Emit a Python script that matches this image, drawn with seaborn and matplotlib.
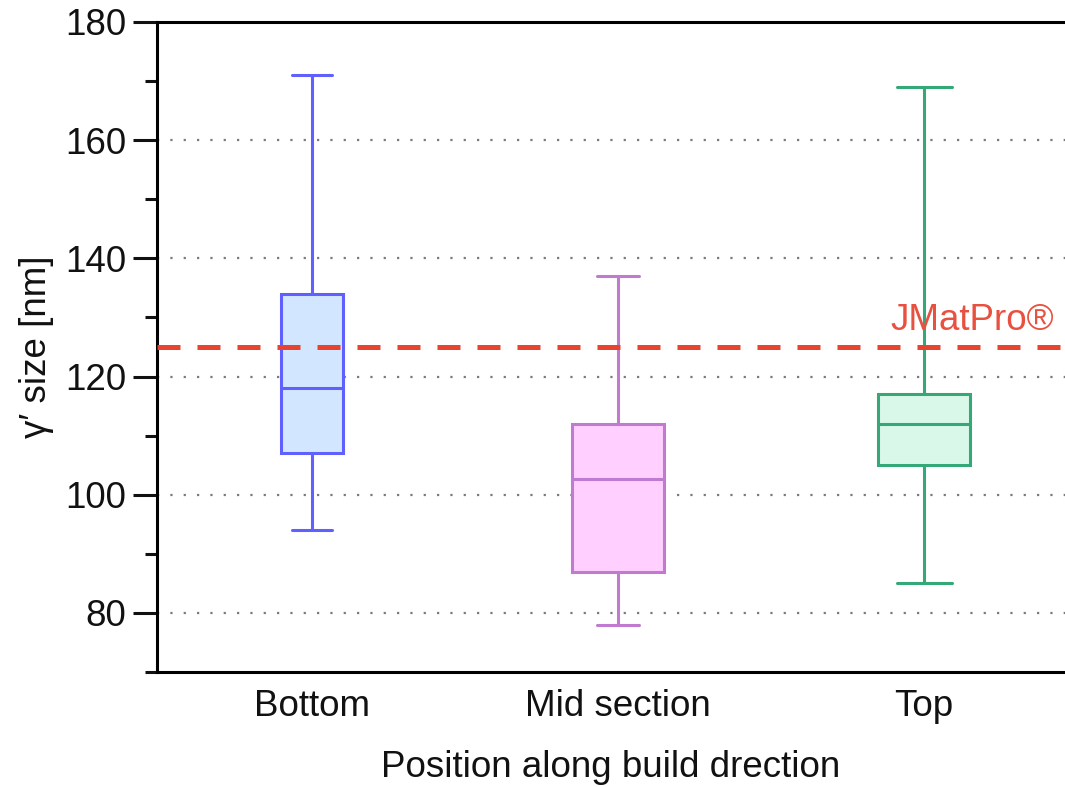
#!/usr/bin/env python3
"""Box plot of gamma-prime size along the build direction, with the
JMatPro prediction drawn as a dashed reference line."""
import matplotlib
matplotlib.use("Agg")
import matplotlib.pyplot as plt
import numpy as np
import pandas as pd
import seaborn as sns
from matplotlib.ticker import MultipleLocator

# five-number summaries: whisker low, Q1, median, Q3, whisker high
positions = ["Bottom", "Mid section", "Top"]
bottom_vals = [94, 107, 118, 134, 171]
mid_vals = [78, 87, 102.7, 112, 137]
top_vals = [85, 105, 112, 117, 169]
jmatpro_size = 125

fills = ["#d3e6ff", "#ffd0ff", "#daf8e9"]
edges = ["#6060ff", "#c07ad0", "#34a977"]
box_widths = [0.2, 0.3, 0.3]
cap_widths = [0.13, 0.14, 0.18]

df = pd.DataFrame({
    "position": np.repeat(positions, 5),
    "size": bottom_vals + mid_vals + top_vals,
})

sns.set_style("white")
plt.rcParams["font.family"] = ["Liberation Sans", "DejaVu Sans"]
plt.rcParams["text.color"] = "#111111"
plt.rcParams["axes.labelcolor"] = "#111111"
plt.rcParams["xtick.color"] = "#111111"
plt.rcParams["ytick.color"] = "#111111"
FS = 26.5

fig = plt.figure(figsize=(10.65, 7.87), dpi=100)
ax = fig.add_axes([0.1474, 0.1461, 0.8526, 0.826])

for name, fill, edge, w, cw in zip(positions, fills, edges, box_widths, cap_widths):
    sns.boxplot(data=df[df["position"] == name], x="position", y="size",
                order=positions, color=fill, linecolor=edge, saturation=1,
                width=w, linewidth=2.2, whis=(0, 100), showfliers=False,
                capwidths=cw, ax=ax)

ax.axhline(jmatpro_size, color="#e8432f", lw=3.6, dashes=(4.6, 3.4), zorder=5)
ax.text(2.425, jmatpro_size + 1.6, "JMatPro®", color="#e8503f", fontsize=FS,
        ha="right", va="bottom")

ax.set_ylim(70, 180)
ax.set_xlim(-0.506, 2.46)
ax.yaxis.set_major_locator(MultipleLocator(20))
ax.yaxis.set_minor_locator(MultipleLocator(10))
ax.yaxis.grid(True, which="major", linestyle=(0, (1, 5)), color="#7a7a7a", lw=1.6)
ax.set_axisbelow(True)

for side in ["top", "left", "bottom"]:
    ax.spines[side].set_linewidth(2.2)
    ax.spines[side].set_color("black")
ax.spines["right"].set_visible(False)

ax.tick_params(axis="y", which="major", left=True, length=17, width=2.2,
               labelsize=FS, pad=5)
ax.tick_params(axis="y", which="minor", left=True, length=8.5, width=2.2)
ax.tick_params(axis="x", length=0, labelsize=FS, pad=12)

ax.set_xlabel("Position along build drection", fontsize=FS, labelpad=19)
ax.set_ylabel("γ′ size [nm]", fontsize=FS, labelpad=8)

fig.savefig("out.png", dpi=100)
